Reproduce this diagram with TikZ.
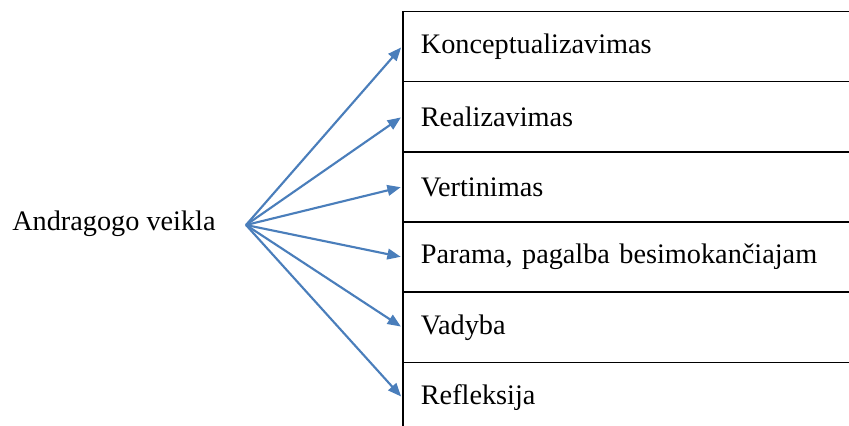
\documentclass[tikz,border=0pt]{standalone}
\usepackage{fontspec}
\setmainfont{Liberation Serif}
\usetikzlibrary{arrows.meta}
\definecolor{arrowblue}{RGB}{74,126,187}

\begin{document}
\begin{tikzpicture}[x=0.75pt,y=-0.75pt,font=\fontsize{21.2}{25}\selectfont,
  row/.style={draw=black,line width=1.3pt,rectangle,anchor=north west,inner xsep=13.5pt,text width=348pt,align=left,minimum height=52.65pt},
  link/.style={arrowblue,line width=1.6pt,-{Triangle[length=10pt,width=8pt]},shorten >=1pt}]
\useasboundingbox (0,0) rectangle (849,425);
\clip (0,0) rectangle (849,425);
\node (a)[anchor=west,inner sep=0pt] at (12,224) {Andragogo veikla};
\coordinate (s) at (246,225);
\foreach \n/\label in {1/Konceptualizavimas,2/Realizavimas,3/Vertinimas,4/{Parama, pagalba besimokančiajam},5/Vadyba,6/Refleksija}
\node[row] (r\n) at (402,{10.5+70.2*(\n-1)}) {\label};
\foreach \n in {1,...,6}
\draw[link] (s) -- (r\n.west);
\end{tikzpicture}
\end{document}
